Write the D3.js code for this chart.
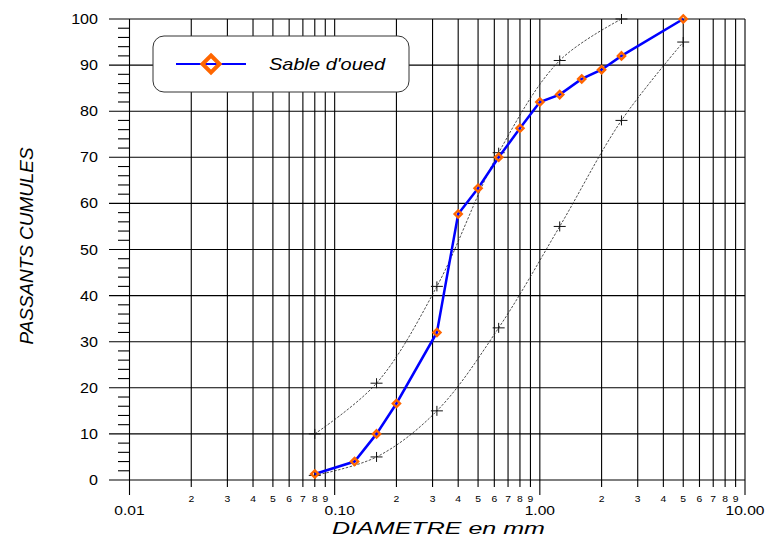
<!DOCTYPE html>
<html><head><meta charset="utf-8">
<script src="https://cdn.jsdelivr.net/npm/d3@7"></script>
<style>body{margin:0;background:#fff}svg{display:block}text{font-family:Arial,"Liberation Sans",sans-serif}</style>
</head><body><svg id="c" width="770" height="538"></svg>
<script>
// ---- data ----
const sampleName = "Sable d'oued";
const sieveSizes = [0.08, 0.125, 0.16, 0.2, 0.315, 0.4, 0.5, 0.63, 0.8, 1, 1.25, 1.6, 2, 2.5, 5];
const passing    = [1.3, 4, 10, 16.6, 32, 57.7, 63.3, 70, 76.3, 82, 83.6, 87, 89, 92, 100];
const upperSizes = [0.08, 0.16, 0.315, 0.63, 1.25, 2.5];
const upperVals  = [10, 21, 42, 71, 91, 100];
const lowerSizes = [0.08, 0.16, 0.315, 0.63, 1.25, 2.5, 5];
const lowerVals  = [1, 5, 15, 33, 55, 78, 95];
const xMajorTicks  = [0.01, 0.1, 1, 10];
const xMajorLabels = ["0.01", "0.10", "1.00", "10.00"];
const xMinorDigits = [2, 3, 4, 5, 6, 7, 8, 9];
const yMajorTicks  = [0, 10, 20, 30, 40, 50, 60, 70, 80, 90, 100];
const yMinorTicks  = d3.range(0, 101, 2).filter(v => v % 10 !== 0);
const xTitle = "DIAMETRE en mm";
const yTitle = "PASSANTS CUMULES";

(function () {
// ---- layout ----
const svg = d3.select("#c");
const x = d3.scaleLog().domain([0.01, 10]).range([129.5, 745]);
const y = d3.scaleLinear().domain([0, 100]).range([480, 19]);
const yTop = y(100), yBot = y(0);
const gridColor = "#000";

const xMinorTicks = [];
[0.01, 0.1, 1].forEach(dec => xMinorDigits.forEach(k => xMinorTicks.push({v: dec * k, k})));

const g = svg.append("g");
// vertical grid
g.selectAll(".vmin").data(xMinorTicks).join("line")
  .attr("x1", d => x(d.v)).attr("x2", d => x(d.v))
  .attr("y1", yTop).attr("y2", yBot + 7)
  .attr("stroke", gridColor).attr("stroke-width", 1.1);
g.selectAll(".vmaj").data(xMajorTicks).join("line")
  .attr("x1", d => x(d)).attr("x2", d => x(d))
  .attr("y1", yTop).attr("y2", yBot + 15)
  .attr("stroke", gridColor).attr("stroke-width", 1.1);
// horizontal grid
g.selectAll(".hmaj").data(yMajorTicks).join("line")
  .attr("x1", 109).attr("x2", x(10))
  .attr("y1", d => y(d)).attr("y2", d => y(d))
  .attr("stroke", gridColor).attr("stroke-width", 1.1);
g.selectAll(".hmin").data(yMinorTicks).join("line")
  .attr("x1", 118).attr("x2", x(0.01))
  .attr("y1", d => y(d)).attr("y2", d => y(d))
  .attr("stroke", gridColor).attr("stroke-width", 1.1);

// y labels
g.selectAll(".yl").data(yMajorTicks).join("text")
  .attr("transform", d => `translate(98,${y(d) + 5}) scale(1.15,1)`)
  .attr("text-anchor", "end").attr("font-size", 14).attr("fill", "#000")
  .text(d => d);
// x labels
g.selectAll(".xl").data(xMajorTicks).join("text")
  .attr("transform", (d, i) => `translate(${x(d) + (i === 1 ? 5 : 0)},515) scale(1.3,1)`)
  .attr("text-anchor", "middle").attr("font-size", 12).attr("fill", "#000")
  .text((d, i) => xMajorLabels[i]);
g.selectAll(".xm").data(xMinorTicks).join("text")
  .attr("transform", d => `translate(${x(d.v)},502) scale(1.15,1)`)
  .attr("text-anchor", "middle").attr("font-size", 9).attr("fill", "#000")
  .text(d => d.k);

// titles
svg.append("text").attr("x", 438.5).attr("y", 533.5).attr("text-anchor", "middle")
  .attr("font-size", 17).attr("font-style", "italic")
  .attr("textLength", 213).attr("lengthAdjust", "spacingAndGlyphs").text(xTitle);
svg.append("text").attr("transform", "translate(33,246) rotate(-90)").attr("text-anchor", "middle")
  .attr("font-size", 18).attr("font-style", "italic")
  .attr("textLength", 197).attr("lengthAdjust", "spacingAndGlyphs").text(yTitle);

// envelopes
const env = d3.line().x(d => x(d[0])).y(d => y(d[1])).curve(d3.curveCatmullRom.alpha(0.5));
const upper = upperSizes.map((s, i) => [s, upperVals[i]]);
const lower = lowerSizes.map((s, i) => [s, lowerVals[i]]);
[upper, lower].forEach(pts => {
  svg.append("path").attr("d", env(pts)).attr("fill", "none")
    .attr("stroke", "#222").attr("stroke-width", 0.8).attr("stroke-dasharray", "2.5,1.5");
  svg.append("g").selectAll("path").data(pts).join("path")
    .attr("d", d => `M${x(d[0]) - 6},${y(d[1])}H${x(d[0]) + 6}M${x(d[0])},${y(d[1]) - 5}V${y(d[1]) + 5}`)
    .attr("stroke", "#111").attr("stroke-width", 1).attr("fill", "none");
});

// main curve
const main = sieveSizes.map((s, i) => [s, passing[i]]);
svg.append("path").attr("d", d3.line().x(d => x(d[0])).y(d => y(d[1]))(main))
  .attr("fill", "none").attr("stroke", "#0000ff").attr("stroke-width", 2.5);
const diamond = (cx, cy, r) => `M${cx},${cy - r}L${cx + r},${cy}L${cx},${cy + r}L${cx - r},${cy}Z`;
svg.append("g").selectAll("path").data(main).join("path")
  .attr("d", d => diamond(x(d[0]), y(d[1]), 3.6))
  .attr("fill", "none").attr("stroke", "#ff6600").attr("stroke-width", 2.4);

// legend
const lg = svg.append("g");
lg.append("rect").attr("x", 153).attr("y", 36).attr("width", 256).attr("height", 56)
  .attr("rx", 11).attr("fill", "#fff").attr("stroke", "#333").attr("stroke-width", 1);
lg.append("line").attr("x1", 176).attr("x2", 246).attr("y1", 64).attr("y2", 64)
  .attr("stroke", "#0000ff").attr("stroke-width", 2);
lg.append("path").attr("d", diamond(211, 64, 8.5)).attr("fill", "none")
  .attr("stroke", "#ff6600").attr("stroke-width", 4);
lg.append("text").attr("x", 269).attr("y", 70).attr("font-size", 17).attr("font-style", "italic")
  .attr("textLength", 116).attr("lengthAdjust", "spacingAndGlyphs").text(sampleName);
})();
</script></body></html>
